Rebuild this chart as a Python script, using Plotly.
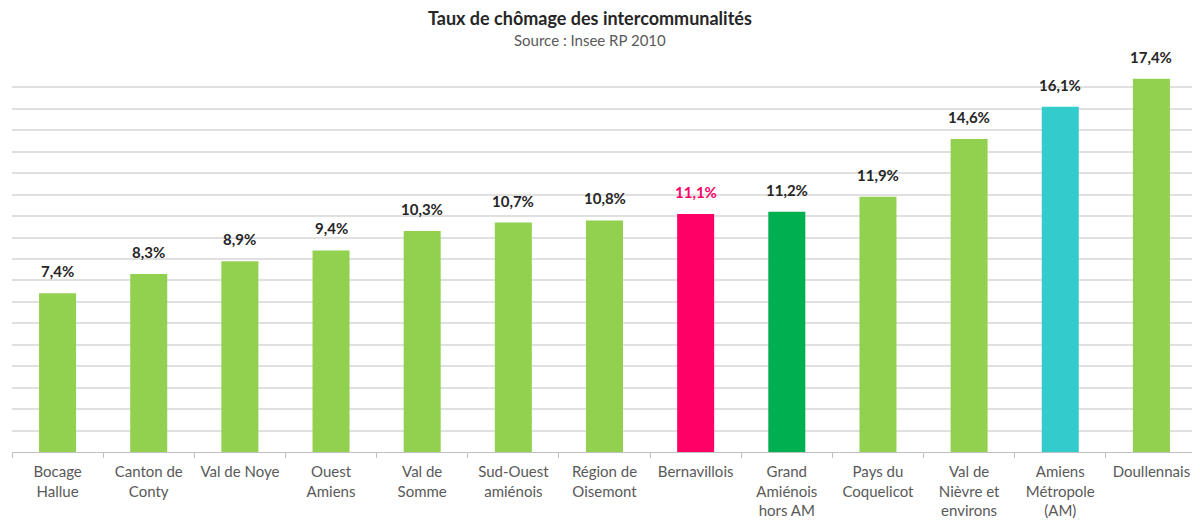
import plotly.graph_objects as go

categories = ["Bocage<br>Hallue", "Canton de<br>Conty", "Val de Noye", "Ouest<br>Amiens",
              "Val de<br>Somme", "Sud-Ouest<br>amiénois", "Région de<br>Oisemont", "Bernavillois",
              "Grand<br>Amiénois<br>hors AM", "Pays du<br>Coquelicot", "Val de<br>Nièvre et<br>environs",
              "Amiens<br>Métropole<br>(AM)", "Doullennais"]
values = [7.4, 8.3, 8.9, 9.4, 10.3, 10.7, 10.8, 11.1, 11.2, 11.9, 14.6, 16.1, 17.4]
bar_colors = ["#92D050"] * 7 + ["#FF0066", "#00B050", "#92D050", "#92D050", "#33CCCC", "#92D050"]
label_colors = ["#262626"] * 7 + ["#FF0066"] + ["#262626"] * 5

title_text = "Taux de chômage des intercommunalités"
subtitle_text = "Source : Insee RP 2010"

labels = [f"{v:.1f}".replace(".", ",") + "%" for v in values]

fig = go.Figure(go.Bar(
    x=categories, y=values, marker=dict(color=bar_colors, line=dict(width=0)),
    cliponaxis=False, hoverinfo="x+y",
))

annotations = [
    dict(x=c, y=v, xref="x", yref="y", text=f"<b>{t}</b>", showarrow=False,
         yanchor="bottom", yshift=11, font=dict(family="Lato", size=15, color=lc))
    for c, v, t, lc in zip(categories, values, labels, label_colors)
]
annotations += [
    dict(text=f"<b>{title_text}</b>", x=0.4875, y=1, xref="paper", yref="paper",
         xanchor="center", yanchor="middle", yshift=48, showarrow=False,
         font=dict(family="Lato", size=18, color="#262626")),
    dict(text=subtitle_text, x=0.4875, y=1, xref="paper", yref="paper",
         xanchor="center", yanchor="middle", yshift=26, showarrow=False,
         font=dict(family="Lato", size=15, color="#595959")),
]

fig.update_layout(
    width=1192, height=517,
    margin=dict(l=4, r=3, t=58, b=73, autoexpand=False),
    plot_bgcolor="white", paper_bgcolor="white",
    bargap=0.594,
    showlegend=False,
    font=dict(family="Lato", size=15, color="#595959"),
    annotations=annotations,
)
fig.update_xaxes(showline=True, linecolor="#bfbfbf", linewidth=1, ticks="outside", tickson="boundaries",
                 ticklen=5, tickcolor="#bfbfbf", tickfont=dict(family="Lato", size=15, color="#595959"),
                 ticklabelstandoff=6, showgrid=False, automargin=False)
fig.update_yaxes(range=[0, 18], dtick=1, showgrid=True, gridcolor="#e0e0e0", gridwidth=1.5,
                 showticklabels=False, zeroline=False, automargin=False)

fig.write_html("out.html")
